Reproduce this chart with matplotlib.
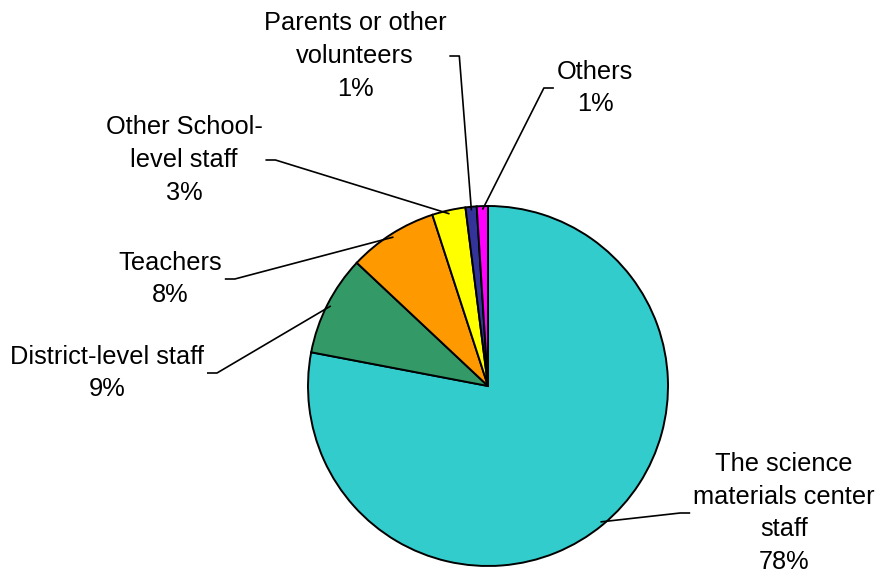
import numpy as np
import matplotlib
matplotlib.use("Agg")
from matplotlib import pyplot as plt

plt.rcParams["font.family"] = ["Liberation Sans", "DejaVu Sans"]

labels = ["The science\nmaterials center\nstaff", "District-level staff", "Teachers",
          "Other School-\nlevel staff", "Parents or other\nvolunteers", "Others"]
shares = [78, 9, 8, 3, 1, 1]
colors = ["#33CCCC", "#339966", "#FF9900", "#FFFF00", "#333399", "#FF00FF"]

# where each label block sits (pixel coords, y up)
label_pos = [(784, 64), (107, 204), (170, 298), (184, 417), (355, 521), (595, 489)]

fig = plt.figure(figsize=(8.8, 5.77), dpi=100)
ax = fig.add_axes([0, 0, 1, 1])

cx, cy, R = 488, 191, 180
wedges, _ = ax.pie(shares, colors=colors, startangle=90, counterclock=False,
                   center=(cx, cy), radius=R,
                   wedgeprops=dict(edgecolor="black", linewidth=1.4))
ax.set_xlim(0, 880)
ax.set_ylim(0, 577)
ax.set_aspect("equal")
ax.axis("off")

texts = []
for lab, v, (tx, ty) in zip(labels, shares, label_pos):
    t = ax.text(tx, ty, f"{lab}\n{v}%", ha="center", va="center",
                fontsize=18.3, linespacing=1.45)
    texts.append(t)

fig.canvas.draw()
renderer = fig.canvas.get_renderer()

for w, t, (tx, ty) in zip(wedges, texts, label_pos):
    mid = np.deg2rad((w.theta1 + w.theta2) / 2)
    px, py = cx + 0.98 * R * np.cos(mid), cy + 0.98 * R * np.sin(mid)
    bb = t.get_window_extent(renderer)
    if tx < px:
        x0 = bb.x1 + 3
        x1 = x0 + 10
    else:
        x0 = bb.x0 - 3
        x1 = x0 - 10
    ax.plot([x0, x1, px], [ty, ty, py], color="black", linewidth=1.2,
            solid_capstyle="butt", zorder=3)

fig.savefig("out.png", dpi=100)
